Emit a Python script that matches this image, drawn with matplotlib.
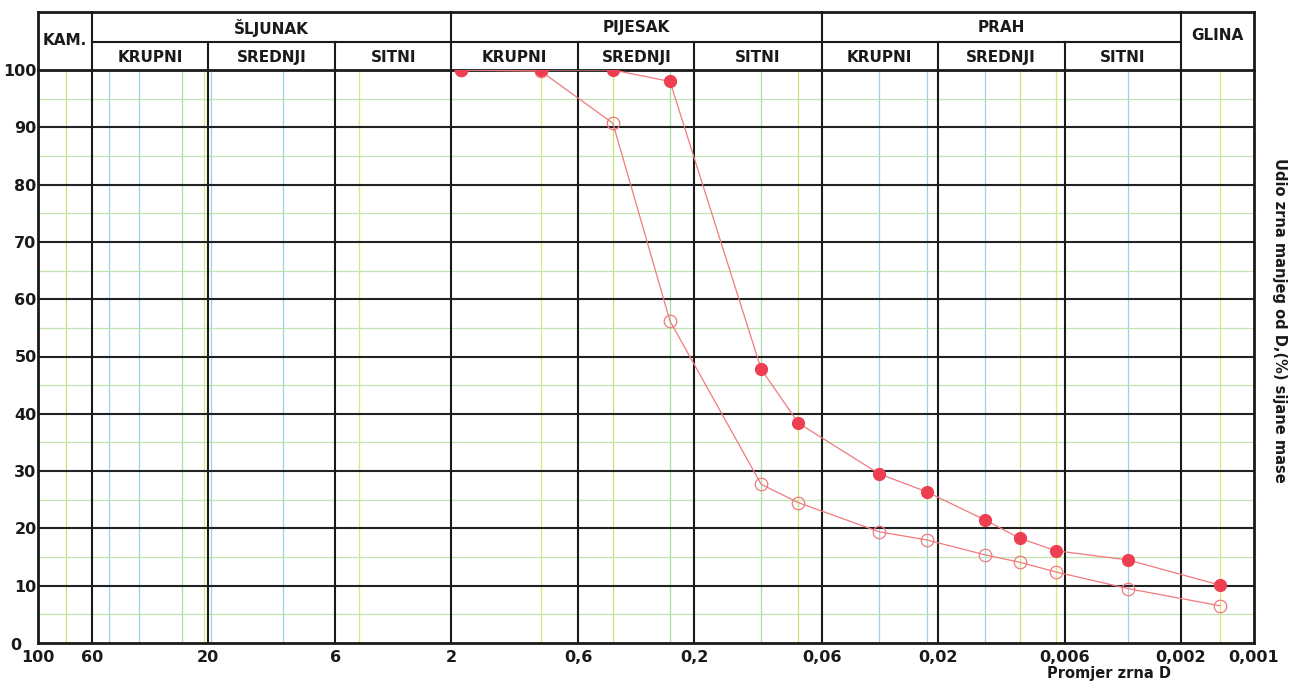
import matplotlib
matplotlib.use("Agg")
import matplotlib.pyplot as plt

# grain diameter D (mm) and percent finer
d_filled = [1.83, 0.856, 0.4325, 0.252, 0.1063, 0.0748, 0.0347, 0.0222, 0.0128, 0.0092, 0.00653, 0.0033, 0.00138]
p_filled = [100, 100, 100, 98.0, 47.8, 38.4, 29.5, 26.4, 21.5, 18.3, 16.1, 14.5, 10.1]

d_open = [1.83, 0.856, 0.4325, 0.252, 0.1063, 0.0748, 0.0347, 0.0222, 0.0128, 0.0092, 0.00653, 0.0033, 0.00138]
p_open = [100, 99.8, 90.7, 56.2, 27.7, 24.5, 19.4, 18.0, 15.4, 14.1, 12.4, 9.5, 6.5]

x_ticks = [100, 60, 20, 6, 2, 0.6, 0.2, 0.06, 0.02, 0.006, 0.002, 0.001]
x_tick_labels = ["100", "60", "20", "6", "2", "0,6", "0,2", "0,06", "0,02", "0,006", "0,002", "0,001"]
y_ticks = [0, 10, 20, 30, 40, 50, 60, 70, 80, 90, 100]

# class boundaries
group_bounds = [60, 2, 0.06, 0.002]
sub_bounds = [20, 6, 0.6, 0.2, 0.02, 0.006]

groups = ["ŠLJUNAK", "PIJESAK", "PRAH"]
sub_names = ["KRUPNI", "SREDNJI", "SITNI"]

# coloured minor lines printed on the form
minor_x = [77, 51, 38.4, 25.5, 20.7, 19.4, 9.8, 4.8, 0.856, 0.4325, 0.252, 0.1063,
           0.0748, 0.0347, 0.0222, 0.0128, 0.0092, 0.00653, 0.0033, 0.00138]
minor_c = ["#d6dc78", "#98d4e4", "#98d4e4", "#a6dca6", "#e6e27a", "#98d4e4", "#98d4e4", "#e6e27a",
           "#e6e27a", "#c8e07a", "#a6dca6", "#a6dca6", "#c8e07a", "#98d4e4", "#98d4e4",
           "#98d4e4", "#c8e07a", "#e6e27a", "#98d4e4", "#e6e27a"]
minor_y = [5, 15, 25, 35, 45, 55, 65, 75, 85, 95]

RED = "#ee3f52"
LINE = "#f07a7e"


def main():
    fig = plt.figure(figsize=(12.96, 6.81), dpi=100)
    ax = fig.add_axes([38 / 1296, 38 / 681, (1254 - 38) / 1296, 573 / 681])
    ax.set_xscale("log")
    ax.set_xlim(100, 0.001)
    ax.set_ylim(0, 100)

    for x, c in zip(minor_x, minor_c):
        ax.axvline(x, color=c, lw=0.9, zorder=1)
    for y in minor_y:
        ax.axhline(y, color="#c2e4b2", lw=0.9, zorder=1)
    for y in y_ticks[1:-1]:
        ax.axhline(y, color="#222222", lw=1.5, zorder=2)
    for x in group_bounds + sub_bounds:
        ax.axvline(x, color="#1a1a1a", lw=1.5, zorder=2)

    for s in ax.spines.values():
        s.set_linewidth(2)
        s.set_color("#1a1a1a")

    # header table above the plot
    tr = ax.get_xaxis_transform()
    top, mid = 1.101, 1.049
    kw = dict(transform=tr, clip_on=False, color="#1a1a1a")
    ax.plot([100, 0.001], [top, top], lw=2, **kw)
    ax.plot([60, 0.002], [mid, mid], lw=1.5, **kw)
    ax.plot([100, 100], [1, top], lw=2, **kw)
    ax.plot([0.001, 0.001], [1, top], lw=2, **kw)
    for x in group_bounds:
        ax.plot([x, x], [1, top], lw=1.5, **kw)
    for x in sub_bounds:
        ax.plot([x, x], [1, mid], lw=1.5, **kw)

    tk = dict(transform=tr, ha="center", va="center", fontsize=11, fontweight="bold", color="#1a1a1a")
    ax.text((100 * 60) ** 0.5, 1.052, "KAM.", **tk)
    ax.text((0.002 * 0.001) ** 0.5, 1.061, "GLINA", **tk)
    edges = [60, 20, 6, 2, 0.6, 0.2, 0.06, 0.02, 0.006, 0.002]
    for i, g in enumerate(groups):
        lo, hi = edges[3 * i], edges[3 * i + 3]
        ax.text((lo * hi) ** 0.5, 1.074, g, **tk)
        for j, n in enumerate(sub_names):
            a, b = edges[3 * i + j], edges[3 * i + j + 1]
            ax.text((a * b) ** 0.5, 1.022, n, **tk)

    ax.plot(d_open, p_open, color=LINE, lw=0.9, marker="o", markersize=9,
            markerfacecolor="none", markeredgecolor=LINE, markeredgewidth=0.9, zorder=4)
    ax.plot(d_filled, p_filled, color=LINE, lw=0.9, marker="o", markersize=8.5,
            markerfacecolor=RED, markeredgecolor=RED, zorder=5)

    ax.set_xticks(x_ticks)
    ax.set_xticklabels(x_tick_labels)
    ax.minorticks_off()
    ax.set_yticks(y_ticks)
    # the "0" is written further left, beside the "100" of the x axis
    ax.set_yticklabels([""] + [str(v) for v in y_ticks[1:]])
    ax.tick_params(axis="both", length=0, labelsize=11.5)
    ax.tick_params(axis="x", pad=5)
    ax.tick_params(axis="y", pad=1)
    for lab in ax.get_xticklabels() + ax.get_yticklabels():
        lab.set_fontweight("bold")
        lab.set_color("#1a1a1a")
    ax.text(-0.0135, -0.004, str(y_ticks[0]), transform=ax.transAxes, ha="right", va="center",
            fontsize=11.5, fontweight="bold", color="#1a1a1a")

    fig.text(1109 / 1296, 0.0, "Promjer zrna D", ha="center", va="bottom",
             fontsize=10.5, fontweight="bold", color="#1a1a1a")
    fig.text(1279 / 1296, 0.53, "Udio zrna manjeg od D,(%) sijane mase", rotation=-90,
             ha="center", va="center", fontsize=10.5, fontweight="bold", color="#1a1a1a")

    fig.savefig("out.png", dpi=100)


if __name__ == "__main__":
    main()
